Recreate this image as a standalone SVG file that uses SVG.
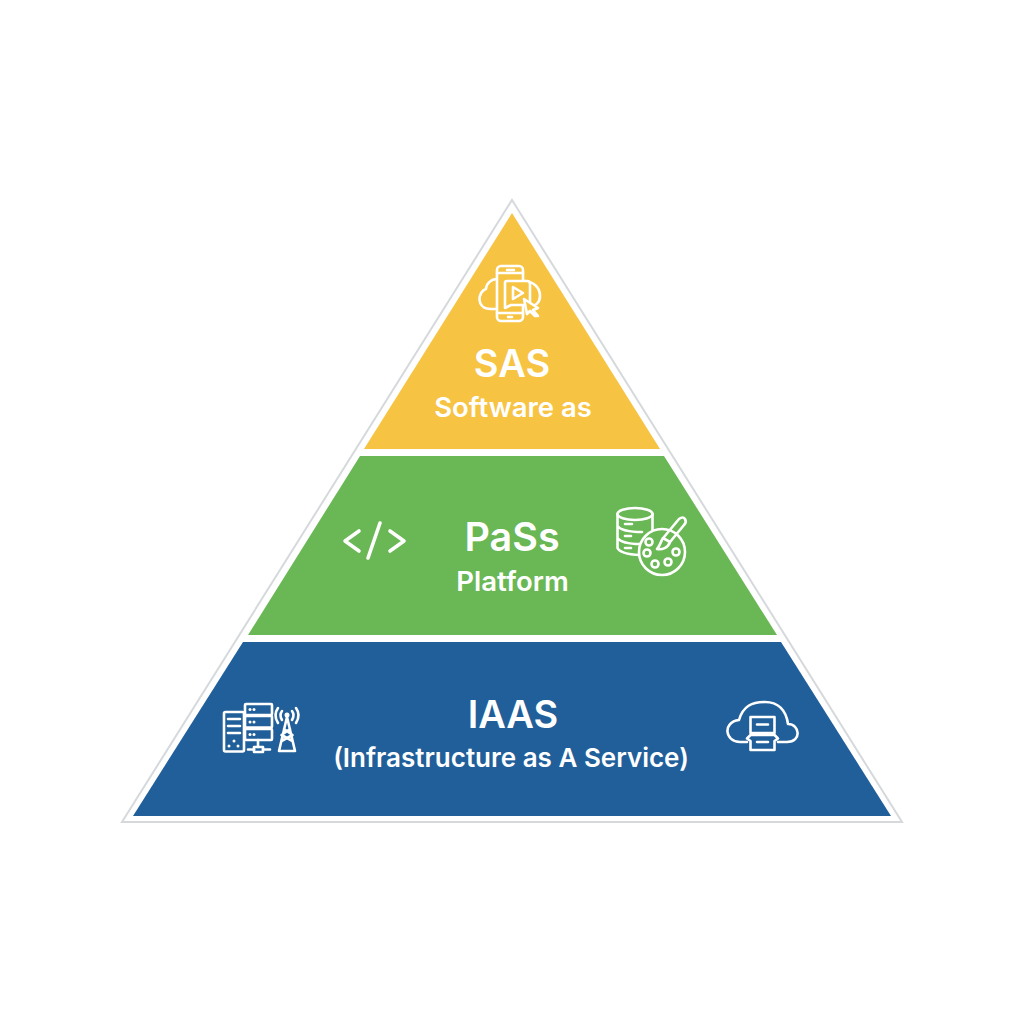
<svg xmlns="http://www.w3.org/2000/svg" width="1024" height="1024" viewBox="0 0 1024 1024">
<style>
.t{font-family:"Inter","Liberation Sans",sans-serif;font-weight:600;fill:#fff;text-anchor:middle}
.h{font-size:38px}
.s{font-size:26px}
.i{fill:none;stroke:#fff;stroke-width:2.600;stroke-linecap:round;stroke-linejoin:round}
.f{fill:#fff;stroke:none}
</style>
<rect width="1024" height="1024" fill="#fff"/>
<polygon id="outline" points="512,200 902,822 122,822" fill="#fff" stroke="#d6d9dc" stroke-width="2"/>
<g id="sas">
<polygon points="512,213 660,449 364,449" fill="#f7c342"/>
<g class="i">
<path d="M497,279 C491,279 486,284 486,289 C478,291 475,309 491,309 H497"/>
<path d="M523,281 C534,281 540,288 540,296 C540,303 535,306 531,306"/>
<rect x="497" y="266" width="26" height="55" rx="4" fill="#f7c342"/>
<path d="M497,273 H523 M497,313 H523 M507,270 H514 M508,317 H512"/>
<path d="M507,281 H527 Q530,281 530,284 V302 Q530,305 527,305 H511 L505,308 V283 Q505,281 507,281 Z" fill="#f7c342"/>
<path d="M513,287 L523,293 L513,299 Z"/>
<path d="M524,299 L538,308 L533,310 L538,316 L535,316 L530,311 L527,314 Z" fill="#f7c342"/>
</g>
<text class="t h" x="512" y="377">SAS</text>
<text class="t s" x="513" y="417" style="font-size:27.500px">Software as</text>
</g>
<g id="pass">
<polygon points="360,456 664,456 777,635 248,635" fill="#6ab755"/>
<g class="i" style="stroke-width:3.600">
<path d="M359,531 L345,541 L359,551 M390,531 L404,541 L390,551 M380,523 L368,558"/>
</g>
<g class="i">
<ellipse cx="635" cy="514" rx="17.500" ry="6"/>
<path d="M617.500,514 V548 Q620,554 640,555 M652.500,514 V530 M617.500,526 Q622,532 642,532 M617.500,538 Q622,544 640,544"/>
<path d="M625,524 H632 M625,536 H631 M625,548 H631"/>
<circle cx="662" cy="552" r="23" fill="#6ab755"/>
<circle cx="649" cy="542" r="3.500"/><circle cx="647" cy="553" r="3.500"/><circle cx="655" cy="564" r="3.500"/><circle cx="668" cy="562" r="3.500"/><circle cx="676" cy="552" r="3.500"/>
<path d="M663,538 C660,543 660,546 657,549 C662,550 668,548 670,542 Z" fill="#6ab755"/>
<path d="M664,537 L679,519 Q683,516 685,519 Q687,522 684,525 L670,542"/>
</g>
<text class="t h" x="512" y="551" style="font-size:39.500px">PaSs</text>
<text class="t s" x="512.500" y="590.500" style="font-size:27.500px">Platform</text>
</g>
<g id="iaas">
<polygon points="243,642 781,642 891,816 133,816" fill="#215f9a"/>
<g class="i">
<rect x="224" y="712" width="20" height="39.500" rx="1.500"/>
<path d="M228,719 H240 M228,726 H240 M228,733 H240"/>
<rect x="245" y="704" width="27" height="11" rx="1"/><rect x="245" y="716" width="27" height="11.500" rx="1"/><rect x="245" y="729" width="27" height="11" rx="1"/>
<path d="M258,740 V747 M248,749.500 H254 M263,749.500 H270"/>
<rect x="254" y="747" width="9" height="5"/>
<path d="M279,751 L287,717 L295,751 Z M281.500,741 L292.500,735 L284,729 M292.500,741 L281.500,735 L290,729"/>
<path d="M282,720 Q279,715 282,711 M278,723 Q273,715 278,708 M292,720 Q295,715 292,711 M296,723 Q301,715 296,708"/>
</g>
<circle class="f" cx="287" cy="715" r="2.500"/>
<g class="f">
<circle cx="250" cy="709.500" r="1.500"/><circle cx="254" cy="709.500" r="1.500"/><circle cx="250" cy="722" r="1.500"/><circle cx="254" cy="722" r="1.500"/><circle cx="250" cy="734.500" r="1.500"/><circle cx="254" cy="734.500" r="1.500"/><circle cx="234" cy="741" r="1.500"/><circle cx="229" cy="746" r="1.500"/><circle cx="238" cy="746" r="1.500"/>
</g>
<g class="i">
<path d="M747,742 H740 C725,742 722,722 739,720 C743,706 752,702 765,702 C778,702 786,710 788,724 C800,724 802,742 787,742 H778"/>
<path d="M750.500,717 H774.500 V733 H750.500 Z" fill="#215f9a"/>
<path d="M750.500,735 L747,738.500 L750.500,741 V750 H774.500 V741 L778,738.500 L774.500,735 Z" fill="#215f9a"/>
<path d="M757,724.500 H768 M757,742 H768"/>
</g>
<text class="t h" x="513" y="728">IAAS</text>
<text class="t s" x="511" y="767">(Infrastructure as A Service)</text>
</g>
</svg>
